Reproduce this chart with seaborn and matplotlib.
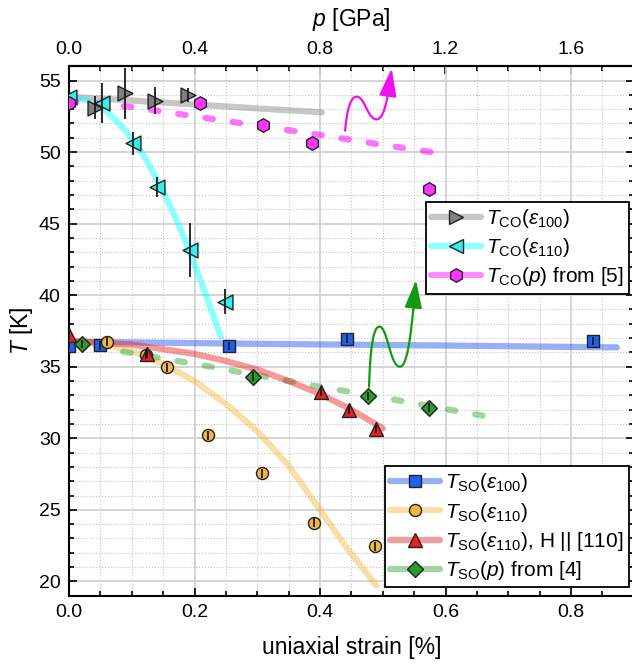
import numpy as np
import matplotlib
matplotlib.use('Agg')
import matplotlib.pyplot as plt
from matplotlib.lines import Line2D
from matplotlib.ticker import MultipleLocator, FixedLocator, FormatStrFormatter
import seaborn as sns

# ---- values ----
# T_CO vs strain along [100]
co100_strain = [0.041, 0.089, 0.137, 0.190]
co100_T = [53.1, 54.1, 53.6, 54.0]
co100_err = [0.8, 1.8, 0.95, 0.5]
co100_fit_strain = [0.0, 0.1, 0.2, 0.3, 0.403]
co100_fit_T = [53.87, 53.6, 53.33, 53.05, 52.78]

# T_CO vs strain along [110]
co110_strain = [0.0, 0.052, 0.102, 0.140, 0.193, 0.249]
co110_T = [53.85, 53.4, 50.6, 47.55, 43.15, 39.55]
co110_err = [0.0, 1.4, 0.8, 0.7, 1.9, 0.9]
co110_fit_strain = [0.0, 0.03, 0.06, 0.09, 0.12, 0.15, 0.18, 0.21, 0.242]
co110_fit_T = [53.9, 53.6, 52.85, 51.5, 49.7, 47.3, 44.4, 41.0, 37.1]

# T_CO(p) from [5], p in GPa
co_p = [0.0, 0.418, 0.619, 0.774, 1.147]
co_p_T = [53.4, 53.4, 51.87, 50.63, 47.42]
co_p_fit_p = [0.0, 0.2, 0.4, 0.6, 0.8, 1.0, 1.2]
co_p_fit_T = [53.55, 53.15, 52.5, 51.85, 51.2, 50.5, 49.85]

# T_SO vs strain along [100]
so100_strain = [0.0, 0.049, 0.255, 0.4425, 0.835]
so100_T = [36.45, 36.5, 36.45, 36.95, 36.8]
so100_fit_strain = [0.0, 0.3, 0.6, 0.873]
so100_fit_T = [36.75, 36.6, 36.48, 36.35]

# T_SO vs strain along [110]
so110_strain = [0.06, 0.122, 0.156, 0.222, 0.308, 0.391, 0.488]
so110_T = [36.75, 35.85, 34.95, 30.2, 27.55, 24.1, 22.45]
so110_fit_strain = [0.0, 0.05, 0.1, 0.15, 0.2, 0.25, 0.3, 0.35, 0.4, 0.445, 0.49]
so110_fit_T = [36.8, 36.6, 36.1, 35.2, 34.0, 32.4, 30.5, 28.1, 25.0, 22.2, 19.7]

# T_SO vs strain along [110], H || [110]
soH_strain = [0.0, 0.125, 0.402, 0.447, 0.489]
soH_T = [37.2, 35.9, 33.25, 32.0, 30.65]
soH_fit_strain = [0.0, 0.1, 0.2, 0.25, 0.3, 0.35, 0.4, 0.45, 0.5]
soH_fit_T = [36.8, 36.55, 35.9, 35.4, 34.8, 34.0, 33.1, 32.0, 30.7]

# T_SO(p) from [4], p in GPa
so_p = [0.04, 0.588, 0.954, 1.148]
so_p_T = [36.6, 34.3, 32.95, 32.15]
so_p_fit_p = [0.0, 0.2, 0.4, 0.6, 0.8, 1.0, 1.2, 1.364]
so_p_fit_T = [36.7, 35.95, 35.2, 34.4, 33.6, 32.85, 32.05, 31.4]

top_ticks = [0.0, 0.4, 0.8, 1.2, 1.6]

SO_ERR = 0.3
P_PER_STRAIN = 2.0   # top axis: 0.4 GPa sits on 0.2 % strain

# wavy arrows: key points (strain, T) and tangents
arrow_co_pts = [(0.440, 51.49), (0.4585, 53.87), (0.4904, 52.29), (0.5143, 55.85)]
arrow_co_tan = [(0.0048, 2.1), (0.040, 0.0), (0.045, 0.0), (0.0127, 3.5)]
arrow_so_pts = [(0.4781, 33.60), (0.4945, 37.80), (0.5275, 35.0), (0.553, 41.06)]
arrow_so_tan = [(0.0032, 3.5), (0.040, 0.0), (0.048, 0.0), (0.0127, 4.9)]

# ---- style ----
sns.set_style('ticks')
plt.rcParams['font.family'] = ['Liberation Sans', 'DejaVu Sans']
plt.rcParams['mathtext.fontset'] = 'custom'
plt.rcParams['mathtext.rm'] = 'Liberation Sans'
plt.rcParams['mathtext.it'] = 'Liberation Sans:italic'
plt.rcParams['mathtext.bf'] = 'Liberation Sans:bold'
for key in ['text.color', 'axes.labelcolor', 'xtick.color', 'ytick.color',
            'axes.edgecolor']:
    plt.rcParams[key] = 'black'

EDGE = '#222222'
LW = 4.5

fig = plt.figure(figsize=(6.32, 6.67), dpi=100)
ax = fig.add_axes([69 / 632, 1 - 595.7 / 667, 564.75 / 632, 529.5 / 667])


def fit_line(x, y, color, alpha, dashed=False):
    kw = dict(solid_capstyle='round', dash_capstyle='round')
    if dashed:
        kw['linestyle'] = (0, (1.2, 3.2))
    sns.lineplot(x=x, y=y, ax=ax, color=color, alpha=alpha, lw=LW, zorder=2, **kw)


def points(x, y, err, marker, s, face):
    sns.scatterplot(x=x, y=y, ax=ax, marker=marker, s=s, color=face,
                    edgecolor=EDGE, linewidth=1.0, zorder=4, legend=False)
    ax.errorbar(x, y, yerr=err, fmt='none', ecolor='#1a1a1a',
                elinewidth=1.3, capsize=0, zorder=5)


# fits
fit_line(co100_fit_strain, co100_fit_T, '#909090', 0.5)
fit_line(co110_fit_strain, co110_fit_T, '#00ffff', 0.45)
fit_line(np.array(co_p_fit_p) / P_PER_STRAIN, co_p_fit_T, '#ff00ff', 0.55, dashed=True)
fit_line(so100_fit_strain, so100_fit_T, '#3060f0', 0.5)
fit_line(so110_fit_strain, so110_fit_T, '#f0b840', 0.45)
fit_line(np.array(so_p_fit_p) / P_PER_STRAIN, so_p_fit_T, '#30a030', 0.45, dashed=True)
fit_line(soH_fit_strain, soH_fit_T, '#e82020', 0.45)

# data points
points(co100_strain, co100_T, co100_err, '>', 115, '#808080')
points(co110_strain, co110_T, co110_err, '<', 115, '#33eeee')
points(np.array(co_p) / P_PER_STRAIN, co_p_T, 0.0, 'h', 95, '#ff33ff')
points(so100_strain, so100_T, SO_ERR, 's', 70, '#2060f0')
points(so110_strain, so110_T, SO_ERR, 'o', 75, '#f0b840')
points(soH_strain, soH_T, SO_ERR, '^', 100, '#e82020')
points(np.array(so_p) / P_PER_STRAIN, so_p_T, SO_ERR, 'D', 64, '#2a9a2a')

# axes
ax.set_xlim(0, 0.9)
ax.set_ylim(19, 56)
ax.xaxis.set_major_locator(MultipleLocator(0.2))
ax.xaxis.set_minor_locator(MultipleLocator(0.05))
ax.yaxis.set_major_locator(MultipleLocator(5))
ax.yaxis.set_minor_locator(MultipleLocator(1))
ax.xaxis.set_major_formatter(FormatStrFormatter('%.1f'))
ax.tick_params(which='both', direction='in', right=True, top=False,
               width=1.2, labelsize=14, pad=6, color='black')
ax.tick_params(which='major', length=6)
ax.tick_params(which='minor', length=3.5)
for sp in ax.spines.values():
    sp.set_linewidth(1.5)
ax.set_axisbelow(True)
ax.grid(which='major', color='#d2d2d2', lw=1.3, ls='-')
ax.grid(which='minor', color='#c4c4c4', lw=0.8, ls=':')
ax.set_xlabel('uniaxial strain [%]', fontsize=16.5, labelpad=11)
ax.set_ylabel(r'$T$ [K]', fontsize=16.5, labelpad=3)

secax = ax.secondary_xaxis('top', functions=(lambda s: s * P_PER_STRAIN,
                                             lambda p: p / P_PER_STRAIN))
secax.xaxis.set_major_locator(FixedLocator(top_ticks))
secax.xaxis.set_minor_locator(MultipleLocator(0.1))
secax.xaxis.set_major_formatter(FormatStrFormatter('%.1f'))
secax.tick_params(which='both', direction='in', width=1.2, labelsize=14, pad=6,
                  color='black')
secax.tick_params(which='major', length=6)
secax.tick_params(which='minor', length=3.5)
secax.spines['top'].set_linewidth(1.5)
secax.set_xlabel(r'$p$ [GPa]', fontsize=16.5, labelpad=11)


# wavy arrows
def hermite(pts, tans, n=40):
    t = np.linspace(0, 1, n)
    h00 = 2 * t**3 - 3 * t**2 + 1
    h10 = t**3 - 2 * t**2 + t
    h01 = -2 * t**3 + 3 * t**2
    h11 = t**3 - t**2
    xs, ys = [], []
    for i in range(len(pts) - 1):
        (x0, y0), (x1, y1) = pts[i], pts[i + 1]
        (mx0, my0), (mx1, my1) = tans[i], tans[i + 1]
        xs.append(h00 * x0 + h10 * mx0 + h01 * x1 + h11 * mx1)
        ys.append(h00 * y0 + h10 * my0 + h01 * y1 + h11 * my1)
    return np.concatenate(xs), np.concatenate(ys)


def wavy_arrow(pts, tans, color):
    x, y = hermite(pts, tans)
    disp = ax.transData.transform(np.column_stack([x, y]))
    dist = np.hypot(*(disp - disp[-1]).T)
    k = np.where(dist > 14)[0][-1]
    ax.plot(x[:k + 1], y[:k + 1], color=color, lw=1.6, zorder=6)
    ax.annotate('', xy=(x[-1], y[-1]), xytext=(x[k], y[k]),
                arrowprops=dict(arrowstyle='-|>,head_length=0.9,head_width=0.28',
                                color=color, lw=1.6, shrinkA=0, shrinkB=0,
                                mutation_scale=19), zorder=6)


wavy_arrow(arrow_co_pts, arrow_co_tan, '#ee11ee')
wavy_arrow(arrow_so_pts, arrow_so_tan, '#119911')


# legends
def handle(line_color, marker, ms, face):
    return Line2D([], [], color=line_color, lw=LW, solid_capstyle='round',
                  marker=marker, ms=ms, mfc=face, mec=EDGE, mew=1.0)


leg_kw = dict(fontsize=15, frameon=True, fancybox=False, framealpha=1,
              edgecolor='black', borderpad=0.25, handlelength=2.4,
              handletextpad=0.25, labelspacing=0.3, borderaxespad=0)

co_handles = [handle((0.56, 0.56, 0.56, 0.5), '>', 10.7, '#808080'),
              handle((0, 1, 1, 0.45), '<', 10.7, '#33eeee'),
              handle((1, 0, 1, 0.45), 'h', 9.7, '#ff33ff')]
co_labels = [r'$T_\mathrm{CO}(\varepsilon_{100})$',
             r'$T_\mathrm{CO}(\varepsilon_{110})$',
             r'$T_\mathrm{CO}(p)$ from [5]']
leg1 = ax.legend(co_handles, co_labels, loc='upper right',
                 bbox_to_anchor=(0.9916, 0.744), **leg_kw)
leg1.get_frame().set_linewidth(1.3)
ax.add_artist(leg1)

so_handles = [handle((0.19, 0.38, 0.94, 0.5), 's', 8.4, '#2060f0'),
              handle((0.94, 0.72, 0.25, 0.45), 'o', 8.7, '#f0b840'),
              handle((0.91, 0.13, 0.13, 0.45), '^', 10, '#e82020'),
              handle((0.19, 0.63, 0.19, 0.45), 'D', 8, '#2a9a2a')]
so_labels = [r'$T_\mathrm{SO}(\varepsilon_{100})$',
             r'$T_\mathrm{SO}(\varepsilon_{110})$',
             r'$T_\mathrm{SO}(\varepsilon_{110})$, H || [110]',
             r'$T_\mathrm{SO}(p)$ from [4]']
leg2 = ax.legend(so_handles, so_labels, loc='lower right',
                 bbox_to_anchor=(0.9916, 0.0159), **leg_kw)
leg2.get_frame().set_linewidth(1.3)

fig.savefig('out.png', dpi=100)
